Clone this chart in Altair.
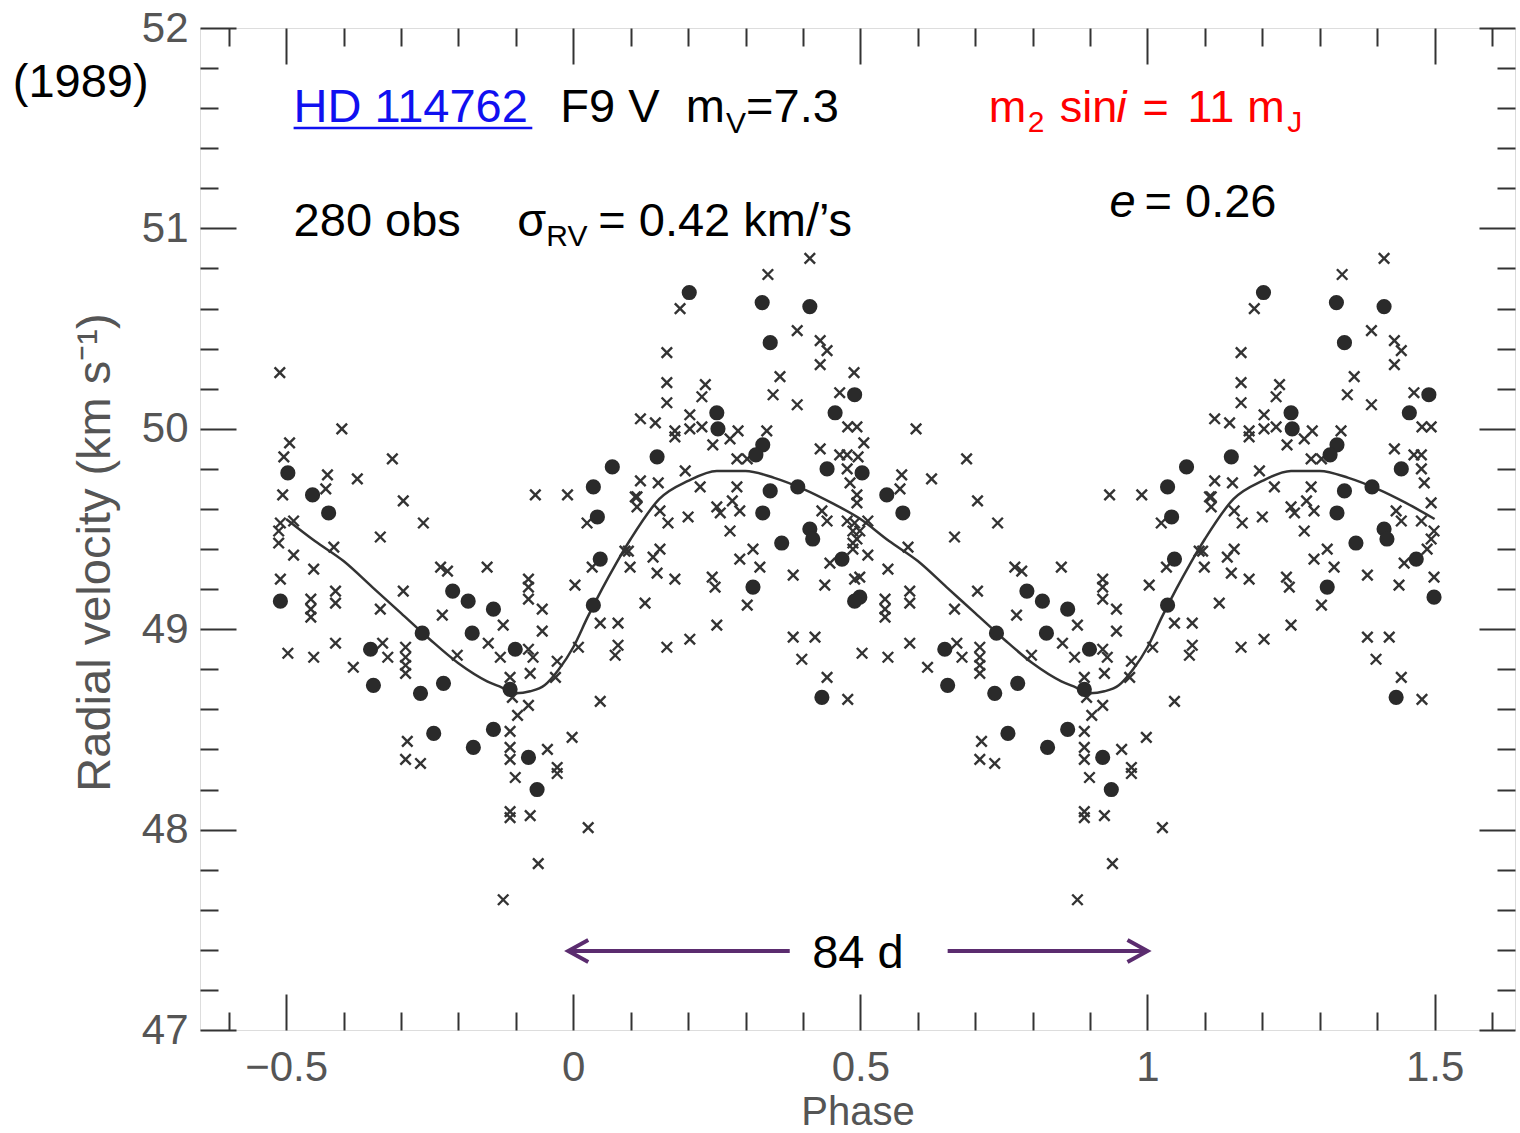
import altair as alt
import pandas as pd

FONT = "Liberation Sans"
PURPLE = "#5b2c6f"

# ---------------- data (one cycle, phase -0.5 .. 0.5) -------------
cross_points = [
    (-0.511, 50.28), (-0.403, 50.00), (-0.494, 49.93), (-0.504, 49.86), (-0.315, 49.85),
    (-0.428, 49.77), (-0.376, 49.75), (-0.431, 49.70), (-0.506, 49.67), (-0.296, 49.64),
    (-0.487, 49.54), (-0.510, 49.53), (-0.261, 49.53), (-0.513, 49.49), (-0.336, 49.46),
    (-0.417, 49.41), (-0.513, 49.43), (-0.487, 49.37), (-0.452, 49.30), (-0.231, 49.31),
    (-0.219, 49.29), (-0.510, 49.25),
    (-0.414, 49.19), (-0.414, 49.13), (-0.457, 49.15), (-0.457, 49.10), (-0.457, 49.06),
    (-0.296, 49.19), (-0.228, 49.07), (-0.336, 49.10), (-0.497, 48.88), (-0.452, 48.86),
    (-0.414, 48.93), (-0.332, 48.93), (-0.323, 48.86), (-0.383, 48.81), (-0.292, 48.91),
    (-0.292, 48.86), (-0.292, 48.82), (-0.292, 48.78), (-0.289, 48.44), (-0.292, 48.35),
    (-0.266, 48.33),
    (-0.066, 49.67), (-0.010, 49.67), (0.024, 49.53), (0.108, 49.66), (-0.150, 49.31),
    (0.033, 49.31), (0.096, 49.39), (0.099, 49.31), (-0.078, 49.25), (-0.078, 49.21),
    (-0.078, 49.15), (0.003, 49.22), (-0.054, 49.10), (-0.122, 49.02), (-0.054, 48.99),
    (0.047, 49.03), (0.078, 49.03), (-0.148, 48.93), (-0.078, 48.90), (-0.127, 48.86),
    (-0.070, 48.86), (-0.202, 48.87), (0.009, 48.91), (0.078, 48.92), (0.073, 48.87),
    (-0.075, 48.78), (-0.028, 48.84), (-0.031, 48.76), (-0.110, 48.76), (-0.106, 48.66),
    (-0.078, 48.62), (0.047, 48.64), (-0.097, 48.57),
    (-0.110, 48.49), (-0.110, 48.41), (-0.110, 48.35), (-0.101, 48.26), (-0.045, 48.40),
    (-0.002, 48.46), (-0.028, 48.31), (-0.028, 48.28), (-0.110, 48.09), (-0.110, 48.06),
    (-0.075, 48.07), (0.026, 48.01), (-0.061, 47.83), (-0.122, 47.65),
    (0.339, 50.77), (0.186, 50.60), (0.390, 50.49), (0.163, 50.38), (0.360, 50.26),
    (0.163, 50.23), (0.230, 50.22), (0.224, 50.16), (0.348, 50.17), (0.163, 50.13),
    (0.390, 50.12), (0.117, 50.05), (0.203, 50.07), (0.143, 50.03), (0.177, 49.99),
    (0.177, 49.96), (0.203, 50.00), (0.224, 50.01), (0.287, 49.99), (0.337, 49.99),
    (0.273, 49.95), (0.243, 49.92), (0.285, 49.85), (0.303, 49.85), (0.195, 49.79),
    (0.117, 49.74), (0.148, 49.73), (0.221, 49.71), (0.285, 49.71),
    (0.111, 49.66), (0.111, 49.61), (0.151, 49.59), (0.165, 49.53), (0.200, 49.56),
    (0.250, 49.61), (0.256, 49.58), (0.277, 49.64), (0.290, 49.59), (0.273, 49.49),
    (0.090, 49.39), (0.139, 49.36), (0.151, 49.40), (0.290, 49.35), (0.313, 49.40),
    (0.325, 49.31), (0.146, 49.28), (0.177, 49.25), (0.242, 49.26), (0.247, 49.21),
    (0.383, 49.27), (0.125, 49.13), (0.303, 49.12), (0.250, 49.02), (0.203, 48.95),
    (0.163, 48.91), (0.383, 48.96),
    (0.412, 50.85), (0.430, 50.44), (0.442, 50.39), (0.430, 50.32), (0.464, 50.18),
    (0.478, 50.01), (0.494, 50.01), (0.430, 49.90), (0.464, 49.87), (0.477, 49.87),
    (0.477, 49.80),
    (0.482, 49.73), (0.494, 49.63), (0.433, 49.59), (0.442, 49.54), (0.477, 49.54),
    (0.499, 49.49), (0.494, 49.45), (0.487, 49.40), (0.447, 49.33), (0.438, 49.22),
    (0.499, 49.26), (0.421, 48.96), (0.398, 48.85), (0.442, 48.76), (0.478, 48.65),
]

dot_points = [
    (-0.497, 49.78), (-0.454, 49.67), (-0.426, 49.58), (-0.510, 49.14), (-0.210, 49.19),
    (-0.263, 48.98), (-0.353, 48.90), (-0.348, 48.72), (-0.266, 48.68), (-0.226, 48.73),
    (-0.243, 48.48), (0.035, 49.71), (0.042, 49.56), (0.047, 49.35), (-0.183, 49.14),
    (-0.139, 49.10), (0.035, 49.12), (-0.176, 48.98), (-0.101, 48.90), (-0.110, 48.70),
    (-0.139, 48.50), (-0.174, 48.41), (-0.078, 48.36), (-0.063, 48.20), (0.202, 50.68),
    (0.329, 50.63), (0.343, 50.43), (0.250, 50.08), (0.252, 50.00), (0.330, 49.92),
    (0.318, 49.87), (0.146, 49.86), (0.068, 49.81), (0.343, 49.69), (0.330, 49.58),
    (0.363, 49.43), (0.313, 49.21), (0.412, 50.61), (0.490, 50.17), (0.456, 50.08),
    (0.442, 49.80), (0.391, 49.71), (0.412, 49.50), (0.417, 49.45), (0.468, 49.35),
    (0.499, 49.16), (0.433, 48.66),
]

curve_phase = [-0.5, -0.45, -0.4, -0.35, -0.3, -0.25, -0.2, -0.15, -0.125, -0.1, -0.075,
               -0.05, -0.025, 0.0, 0.025, 0.05, 0.075, 0.1, 0.15, 0.2, 0.25, 0.3, 0.35,
               0.4, 0.45, 0.5]
curve_rv = [49.55, 49.44, 49.34, 49.21, 49.08, 48.95, 48.83, 48.74, 48.71, 48.68, 48.69,
            48.72, 48.80, 48.91, 49.06, 49.20, 49.33, 49.45, 49.65, 49.74, 49.79, 49.79,
            49.755, 49.70, 49.63, 49.55]

x_major = [-0.5, 0, 0.5, 1, 1.5]
x_minor = [-0.6, -0.4, -0.3, -0.2, -0.1, 0.1, 0.2, 0.3, 0.4, 0.6, 0.7, 0.8, 0.9,
           1.1, 1.2, 1.3, 1.4, 1.6]
y_major = [47, 48, 49, 50, 51, 52]
y_minor = [47.2, 47.4, 47.6, 47.8, 48.2, 48.4, 48.6, 48.8, 49.2, 49.4, 49.6, 49.8,
           50.2, 50.4, 50.6, 50.8, 51.2, 51.4, 51.6, 51.8]

# annotation texts (x in phase units, y in km/s)
black_text = ["(1989)", "F9 V\u00a0\u00a0m", "=7.3", "280 obs", "σ", "= 0.42 km/’s", "= 0.26"]
black_x = [-0.976, -0.0226, 0.3009, -0.487, -0.0974, 0.0435, 0.9948]
black_y = [51.656, 51.531, 51.531, 50.962, 50.962, 50.962, 51.058]

black_sub_text = ["V", "RV"]
black_sub_x = [0.2661, -0.047]
black_sub_y = [51.476, 50.912]

red_text = ["m", "sin", "=", "11", "m"]
red_x = [0.7235, 0.8470, 0.9913, 1.0696, 1.1739]
red_y = [51.531] * 5
red_sub_text = ["2", "J"]
red_sub_x = [0.7913, 1.2435]
red_sub_y = [51.483, 51.483]

period_label = "84 d"
arrow_y = 47.394
arrow_x = [-0.0087, 0.652]
arrow_x2 = [0.377, 1.0]

# ---------------- frames ----------------
def two_cycles(points):
    ph = [p for p, v in points]
    rv = [v for p, v in points]
    return pd.DataFrame({"phase": ph + [p + 1 for p in ph], "rv": rv + rv})

cross_df = two_cycles(cross_points)
dot_df = two_cycles(dot_points)
curve_df = pd.DataFrame({
    "phase": curve_phase + [p + 1 for p in curve_phase[1:]],
    "rv": curve_rv + curve_rv[1:],
})

XS = alt.Scale(domain=[-0.65, 1.64], nice=False, zero=False)
YS = alt.Scale(domain=[47, 52], nice=False, zero=False)


def xy(xf="x", yf="y"):
    return dict(x=alt.X(f"{xf}:Q", scale=XS, axis=None),
                y=alt.Y(f"{yf}:Q", scale=YS, axis=None))


main_x_axis = alt.Axis(
    orient="bottom", values=x_major, ticks=False, tickSize=0, domain=False, grid=False,
    labelExpr="replace(toString(datum.value), '-', '\u2212')",
    labelFont=FONT, labelFontSize=42, labelColor="#555", labelPadding=17,
    title="Phase", titleFont=FONT, titleFontSize=40, titleColor="#555",
    titleFontWeight="normal", titleBaseline="alphabetic", titleY=94)
main_y_axis = alt.Axis(
    orient="left", values=y_major, ticks=False, tickSize=0, domain=False, grid=False,
    labelFont=FONT, labelFontSize=42, labelColor="#555", labelPadding=12,
    title="Radial velocity (km s\u207b\u00b9)", titleFont=FONT, titleFontSize=47,
    titleColor="#555", titleFontWeight="normal", titlePadding=22, titleY=524)

curve = alt.Chart(curve_df).mark_line(color="#333", strokeWidth=2.5,
                                      interpolate="monotone").encode(
    x=alt.X("phase:Q", scale=XS, axis=main_x_axis),
    y=alt.Y("rv:Q", scale=YS, axis=main_y_axis))

crosses = alt.Chart(cross_df).mark_point(
    shape="M-1,-1L1,1M-1,1L1,-1", filled=False, stroke="#333", strokeWidth=2.4,
    size=110, opacity=1).encode(**xy("phase", "rv"))

dots = alt.Chart(dot_df).mark_circle(size=230, color="#2a2a2a", opacity=1).encode(
    **xy("phase", "rv"))


def tick_layer(xo, xv, xs, yo, yv, ys):
    return alt.Chart(curve_df).mark_point(opacity=0).encode(
        x=alt.X("phase:Q", scale=XS, axis=alt.Axis(
            orient=xo, values=xv, tickSize=xs, offset=-xs, labels=False, domain=False,
            grid=False, title="", tickColor="#333", tickWidth=2)),
        y=alt.Y("rv:Q", scale=YS, axis=alt.Axis(
            orient=yo, values=yv, tickSize=ys, offset=-ys, labels=False, domain=False,
            grid=False, title="", tickColor="#333", tickWidth=2)))


ticks = [
    tick_layer("bottom", x_major, 36, "left", y_major, 36),
    tick_layer("bottom", x_minor, 18, "left", y_minor, 18),
    tick_layer("top", x_major, 36, "right", y_major, 36),
    tick_layer("top", x_minor, 18, "right", y_minor, 18),
]


def text_layer(texts, xs, ys, **kw):
    df = pd.DataFrame({"x": xs, "y": ys, "t": texts})
    props = dict(align="left", baseline="alphabetic", font=FONT)
    props.update(kw)
    return alt.Chart(df).mark_text(**props).encode(text="t:N", **xy())


texts = [
    text_layer(black_text, black_x, black_y, fontSize=47, color="black"),
    text_layer(black_sub_text, black_sub_x, black_sub_y, fontSize=30, color="black"),
    text_layer(["HD 114762"], [-0.487], [51.531], fontSize=47, color="#1010f0"),
    text_layer(red_text, red_x, red_y, fontSize=45, color="#ff0000"),
    text_layer(["i"], [0.9461], [51.531], fontSize=45, color="#ff0000", fontStyle="italic"),
    text_layer(red_sub_text, red_sub_x, red_sub_y, fontSize=30, color="#ff0000"),
    text_layer(["e"], [0.9339], [51.058], fontSize=47, color="black", fontStyle="italic"),
    text_layer([period_label], [0.4957], [47.309], fontSize=47, color="black",
               align="center"),
]

underline = alt.Chart(pd.DataFrame({"x": [-0.487], "x2": [-0.0713], "y": [51.501]})).mark_rule(
    color="#1010f0", strokeWidth=2.5).encode(x2="x2:Q", **xy())

arrows_df = pd.DataFrame({"x": arrow_x, "x2": arrow_x2, "y": [arrow_y, arrow_y]})
arrow_lines = alt.Chart(arrows_df).mark_rule(color=PURPLE, strokeWidth=4).encode(
    x2="x2:Q", **xy())
head_left = alt.Chart(pd.DataFrame({"x": [arrow_x[0]], "y": [arrow_y]})).mark_point(
    shape="M2,-1.1L0,0L2,1.1", filled=False, stroke=PURPLE, strokeWidth=4, size=400,
    opacity=1).encode(**xy())
head_right = alt.Chart(pd.DataFrame({"x": [arrow_x2[1]], "y": [arrow_y]})).mark_point(
    shape="M-2,-1.1L0,0L-2,1.1", filled=False, stroke=PURPLE, strokeWidth=4, size=400,
    opacity=1).encode(**xy())

chart = alt.layer(
    curve, *ticks, crosses, dots, *texts, underline, arrow_lines, head_left, head_right
).resolve_axis(
    x="independent", y="independent"
).properties(
    width=1315, height=1002,
    autosize=alt.AutoSizeParams(type="none"),
    padding={"left": 200, "top": 28, "right": 5, "bottom": 103},
).configure_view(
    stroke="#333", strokeWidth=2.5
).configure(background="white")

chart.save("out.html", embed_options={"renderer": "svg", "actions": False})
